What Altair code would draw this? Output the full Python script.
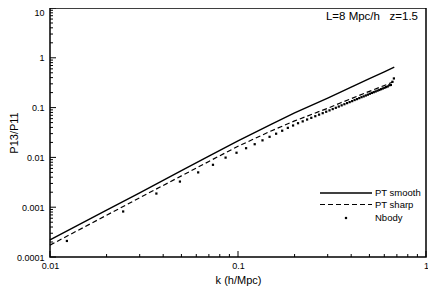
import altair as alt
import pandas as pd

# ---- data ----
k_smooth = [0.01, 0.02, 0.03, 0.05, 0.07, 0.1, 0.15, 0.2, 0.3, 0.4, 0.5, 0.6, 0.678]
pt_smooth = [2.2e-4, 8.7e-4, 1.95e-3, 5.4e-3, 1.06e-2, 0.0214, 0.046, 0.078, 0.155, 0.259, 0.382, 0.523, 0.647]

k_sharp = [0.01, 0.02, 0.03, 0.05, 0.07, 0.1, 0.15, 0.2, 0.3, 0.35, 0.4, 0.5, 0.6, 0.67]
pt_sharp = [1.73e-4, 6.9e-4, 1.55e-3, 4.25e-3, 8.3e-3, 0.0167, 0.034, 0.054, 0.097, 0.124, 0.151, 0.212, 0.278, 0.33]

k_nbody = [0.0123, 0.0245, 0.0368, 0.0491, 0.0614, 0.0736, 0.0859, 0.0982, 0.1104, 0.1227,
           0.1350, 0.1472, 0.1595, 0.1718, 0.1841, 0.1963, 0.2086, 0.2209, 0.2331, 0.2454,
           0.2577, 0.2699, 0.2822, 0.2945, 0.3068, 0.3190, 0.3313, 0.3436, 0.3558, 0.3681,
           0.3804, 0.3926, 0.4049, 0.4172, 0.4295, 0.4417, 0.4540, 0.4663, 0.4785, 0.4908,
           0.5031, 0.5153, 0.5276, 0.5399, 0.5522, 0.5644, 0.5767, 0.5890, 0.6012, 0.6135,
           0.6258, 0.6380, 0.6503, 0.6626, 0.6749]
nbody = [2.1e-4, 8.2e-4, 1.88e-3, 3.27e-3, 5.0e-3, 7.1e-3, 9.9e-3, 0.0124, 0.0153, 0.0184,
         0.0220, 0.0259, 0.0299, 0.0343, 0.0392, 0.0437, 0.0486, 0.0529, 0.0576, 0.0623,
         0.0672, 0.0722, 0.0773, 0.0826, 0.088, 0.0935, 0.099, 0.105, 0.111, 0.117,
         0.123, 0.129, 0.135, 0.142, 0.148, 0.155, 0.162, 0.168, 0.175, 0.182,
         0.190, 0.197, 0.204, 0.211, 0.219, 0.226, 0.234, 0.242, 0.250, 0.258,
         0.266, 0.281, 0.285, 0.33, 0.385]

x_major = [0.01, 0.1, 1]
y_major = [0.0001, 0.001, 0.01, 0.1, 1, 10]
x_minor = [m * 10.0 ** e for e in (-2, -1) for m in range(2, 10)]
y_minor = [m * 10.0 ** e for e in range(-4, 1) for m in range(2, 10)]

legend_labels = ["PT smooth", "PT sharp", "Nbody"]
annotation = "L=8 Mpc/h\u00a0\u00a0\u00a0z=1.5"

W, H = 376, 249
FONT = "Liberation Sans"

xs = alt.Scale(type="log", domain=[0.01, 1], nice=False)
ys = alt.Scale(type="log", domain=[0.0001, 10], nice=False)

df_s = pd.DataFrame({"k": k_smooth, "v": pt_smooth})
df_d = pd.DataFrame({"k": k_sharp, "v": pt_sharp})
df_n = pd.DataFrame({"k": k_nbody, "v": nbody})
df_xmaj = pd.DataFrame({"k": x_major})
df_xmin = pd.DataFrame({"k": x_minor})
df_ymaj = pd.DataFrame({"v": y_major})
df_ymin = pd.DataFrame({"v": y_minor})

x_axis = alt.Axis(values=x_major, format="~g", ticks=False, tickSize=0, domain=False, grid=False,
                  labelFlush=False, labelOverlap=False,
                  labelFont=FONT, labelFontSize=9, labelColor="black", labelPadding=4,
                  title="k (h/Mpc)", titleFont=FONT, titleFontSize=11, titleFontWeight="normal",
                  titleColor="black", titlePadding=4)
y_axis = alt.Axis(values=y_major, format="~g", ticks=False, tickSize=0, domain=False, grid=False,
                  labelFlush=False, labelOverlap=False,
                  labelBaseline={"condition": {"test": "datum.value >= 10", "value": "top"},
                                 "value": "middle"},
                  labelFont=FONT, labelFontSize=9, labelColor="black", labelPadding=6,
                  title="P13/P11", titleFont=FONT, titleFontSize=11, titleFontWeight="normal",
                  titleColor="black", titleX=-36, titleBaseline="middle")

X = alt.X("k:Q", scale=xs, axis=x_axis)
Y = alt.Y("v:Q", scale=ys, axis=y_axis)

smooth = alt.Chart(df_s).mark_line(color="black", strokeWidth=1.4).encode(x=X, y=Y)
sharp = alt.Chart(df_d).mark_line(color="black", strokeWidth=1.2, strokeDash=[5, 3]).encode(x=X, y=Y)
pts = alt.Chart(df_n).mark_square(color="black", size=5, opacity=1).encode(x=X, y=Y)

def xticks(df, length):
    return alt.Chart(df).mark_rule(color="black", strokeWidth=1).encode(
        x=X, y=alt.value(H), y2=alt.value(H - length))

def yticks(df, length):
    return alt.Chart(df).mark_rule(color="black", strokeWidth=1).encode(
        y=Y, x=alt.value(0), x2=alt.value(length))

one = pd.DataFrame({"a": [0]})
leg_solid = alt.Chart(one).mark_rule(color="black", strokeWidth=1.4).encode(
    x=alt.value(270), x2=alt.value(322), y=alt.value(185))
leg_dash = alt.Chart(one).mark_rule(color="black", strokeWidth=1.2, strokeDash=[5, 3]).encode(
    x=alt.value(270), x2=alt.value(322), y=alt.value(196.5))
leg_dot = alt.Chart(one).mark_square(color="black", size=5, opacity=1).encode(
    x=alt.value(296), y=alt.value(210))
leg_text = alt.Chart(pd.DataFrame({"lab": legend_labels, "yy": [185, 196.5, 210]})).mark_text(
    align="left", baseline="middle", font=FONT, fontSize=9.5, color="black").encode(
    x=alt.value(325), y=alt.Y("yy:Q", scale=None, axis=None), text="lab:N")
note = alt.Chart(pd.DataFrame({"t": [annotation]})).mark_text(
    align="right", baseline="middle", font=FONT, fontSize=11.5, color="black").encode(
    x=alt.value(368), y=alt.value(9), text="t:N")

chart = alt.layer(
    smooth, sharp, pts,
    xticks(df_xmaj, 6), xticks(df_xmin, 3), yticks(df_ymaj, 6), yticks(df_ymin, 3),
    leg_solid, leg_dash, leg_dot, leg_text, note,
).properties(
    width=W, height=H,
    autosize=alt.AutoSizeParams(type="none"),
    padding={"left": 42, "top": 0, "right": 2, "bottom": 43},
    background="white",
).configure_view(stroke="black", strokeWidth=1.5)

chart.save("out.html", embed_options={"renderer": "svg", "actions": False})
